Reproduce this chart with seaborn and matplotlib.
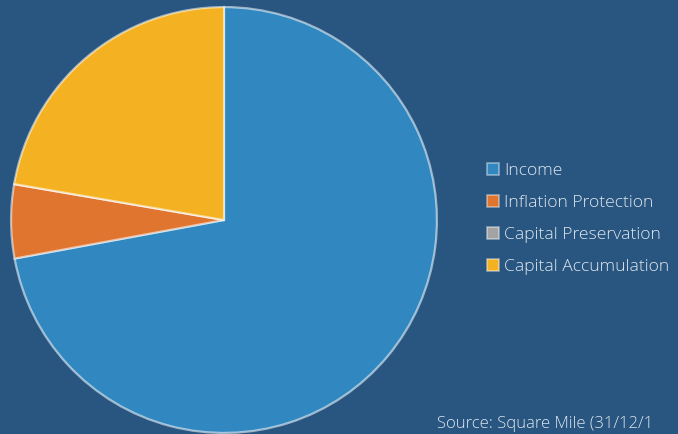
import matplotlib
matplotlib.use("Agg")
import matplotlib.pyplot as plt
import matplotlib.patches as mpatches
import seaborn as sns

categories = ["Income", "Inflation Protection", "Capital Preservation", "Capital Accumulation"]
values = [72.1, 5.6, 0.0, 22.3]
colors = ["#3188c0", "#e07530", "#a3a3a3", "#f4b223"]
source_text = "Source: Square Mile (31/12/1"

BG = "#285680"
TXT = "#dde5ee"

sns.set_theme(style="white")
plt.rcParams['font.family'] = ['Open Sans', 'DejaVu Sans']

fig = plt.figure(figsize=(6.78, 4.34), dpi=100, facecolor=BG)
ax = fig.add_axes([10/678, 0, 428/678, 428/434])
ax.set_facecolor(BG)

wedges, _ = ax.pie(values, colors=colors, startangle=90, counterclock=False,
                   radius=1.0,
                   wedgeprops=dict(edgecolor=(1, 1, 1, 0.55), linewidth=1.6))
ax.set_xlim(-1.005, 1.005)
ax.set_ylim(-1.005, 1.005)
ax.set_aspect('equal')
ax.axis('off')

handles = [mpatches.Patch(facecolor=c, edgecolor=(1, 1, 1, 0.45), linewidth=1.2)
           for c in colors]

leg = fig.legend(handles, categories, loc='upper left',
                 bbox_to_anchor=(487/678, 1 - 163/434),
                 frameon=False, prop={'size': 12.6, 'weight': 'light'}, labelcolor=TXT,
                 handlelength=0.68, handleheight=0.68, handletextpad=0.28,
                 labelspacing=0.9, borderpad=0, borderaxespad=0)

fig.text(437/678, 1 - 428/434, source_text, color=TXT, fontsize=12,
         fontweight='light', ha='left', va='baseline')

fig.savefig("out.png", dpi=100, facecolor=BG)
